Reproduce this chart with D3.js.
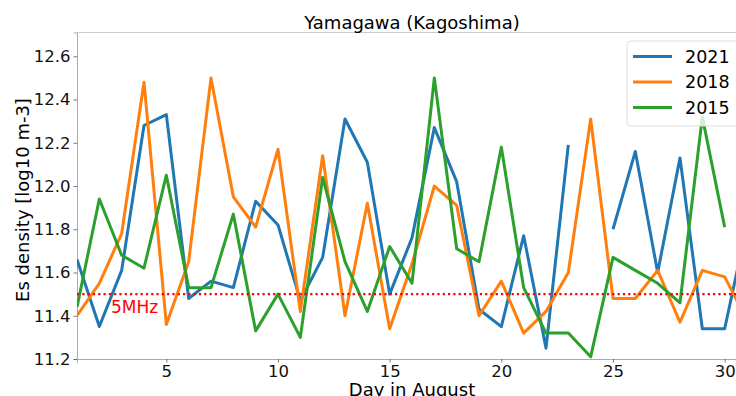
<!DOCTYPE html>
<html>
<head>
<meta charset="utf-8">
<title>Yamagawa (Kagoshima)</title>
<script src="https://d3js.org/d3.v7.min.js"></script>
<style>
  body { margin: 0; background: white; }
  svg { font-family: "DejaVu Sans", sans-serif; }
</style>
</head>
<body>
<div id="chart"></div>
<script>
// days of August
const days = d3.range(1, 32);

// Es density [log10 m-3], null = no data
const es2021 = [11.66, 11.35, 11.61, 12.28, 12.33, 11.48, 11.56, 11.53, 11.93, 11.82,
                11.47, 11.67, 12.31, 12.11, 11.50, 11.76, 12.27, 12.02, 11.43, 11.35,
                11.77, 11.25, 12.19, null, 11.80, 12.16, 11.60, 12.13, 11.34, 11.34, 11.82];
const es2018 = [11.40, 11.55, 11.78, 12.48, 11.36, 11.65, 12.50, 11.95, 11.81, 12.17,
                11.42, 12.14, 11.40, 11.92, 11.34, 11.64, 12.00, 11.91, 11.40, 11.56,
                11.32, 11.42, 11.60, 12.31, 11.48, 11.48, 11.61, 11.37, 11.61, 11.58, 11.38];
const es2015 = [11.44, 11.94, 11.68, 11.62, 12.05, 11.53, 11.53, 11.87, 11.33, 11.50,
                11.30, 12.04, 11.65, 11.42, 11.72, 11.55, 12.50, 11.71, 11.65, 12.18,
                11.53, 11.32, 11.32, 11.21, 11.67, 11.61, 11.55, 11.46, 12.32, 11.81, null];

const seriesNames = ["2021", "2018", "2015"];
const seriesColors = ["#1f77b4", "#ff7f0e", "#2ca02c"];
const xTicks = [5, 10, 15, 20, 25, 30];
const yTicks = [11.2, 11.4, 11.6, 11.8, 12.0, 12.2, 12.4, 12.6];
const threshold = 11.5; // 5MHz

const width = 736, height = 396;
const margin = {left: 77, top: 32.5, right: -11, bottom: 37};

const svg = d3.select("#chart").append("svg")
    .attr("width", width)
    .attr("height", height);

const x = d3.scaleLinear().domain([1, 31]).range([margin.left, width - margin.right]);
const y = d3.scaleLinear().domain([11.2, 12.71]).range([height - margin.bottom, margin.top]);

svg.append("defs").append("clipPath").attr("id", "plotclip")
  .append("rect")
    .attr("x", x(1)).attr("y", y(12.71))
    .attr("width", x(31) - x(1)).attr("height", y(11.2) - y(12.71));

// axes
const xAxis = svg.append("g")
    .attr("transform", `translate(0,${y(11.2)})`)
    .call(d3.axisBottom(x).tickValues(xTicks).tickSize(3.5).tickPadding(3).tickFormat(d3.format("d")));
const yAxis = svg.append("g")
    .attr("transform", `translate(${x(1)},0)`)
    .call(d3.axisLeft(y).tickValues(yTicks).tickSize(3.5).tickPadding(3).tickFormat(d3.format(".1f")));

[xAxis, yAxis].forEach(g => {
  g.select(".domain").attr("stroke", "#aaa");
  g.selectAll(".tick line").attr("stroke", "#555").attr("stroke-width", 0.8);
  g.selectAll(".tick text").attr("font-size", 16.5).attr("fill", "#111")
    .attr("font-family", "DejaVu Sans, sans-serif");
});

// top spine
svg.append("line")
    .attr("x1", x(1)).attr("x2", x(31))
    .attr("y1", y(12.71)).attr("y2", y(12.71))
    .attr("stroke", "#ccc");

const plot = svg.append("g").attr("clip-path", "url(#plotclip)");

const line = d3.line()
    .defined(d => d[1] !== null)
    .x(d => x(d[0]))
    .y(d => y(d[1]));

[es2021, es2018, es2015].forEach((vals, i) => {
  plot.append("path")
      .datum(days.map((d, j) => [d, vals[j]]))
      .attr("fill", "none")
      .attr("stroke", seriesColors[i])
      .attr("stroke-width", 3)
      .attr("stroke-linejoin", "round")
      .attr("d", line);
});

// 5MHz line
plot.append("line")
    .attr("x1", x(1)).attr("x2", x(31))
    .attr("y1", y(threshold)).attr("y2", y(threshold))
    .attr("stroke", "red")
    .attr("stroke-width", 2.2)
    .attr("stroke-dasharray", "2.2,3.1");

svg.append("text")
    .attr("x", 111).attr("y", 313)
    .attr("fill", "red")
    .attr("font-size", 17)
    .text("5MHz");

// title and labels
svg.append("text")
    .attr("x", (x(1) + x(31)) / 2).attr("y", 29)
    .attr("text-anchor", "middle")
    .attr("font-size", 18)
    .text("Yamagawa (Kagoshima)");

svg.append("text")
    .attr("x", (x(1) + x(31)) / 2).attr("y", 396)
    .attr("text-anchor", "middle")
    .attr("font-size", 18)
    .text("Day in August");

svg.append("text")
    .attr("transform", `translate(29,200) rotate(-90)`)
    .attr("text-anchor", "middle")
    .attr("font-size", 18)
    .text("Es density [log10 m-3]");

// legend
const legend = svg.append("g").attr("transform", "translate(627,41)");
legend.append("rect")
    .attr("width", 130).attr("height", 85)
    .attr("rx", 4)
    .attr("fill", "white").attr("fill-opacity", 0.8)
    .attr("stroke", "#ddd");
seriesNames.forEach((name, i) => {
  const row = legend.append("g").attr("transform", `translate(0,${15.5 + i * 25.5})`);
  row.append("line")
      .attr("x1", 6).attr("x2", 45)
      .attr("stroke", seriesColors[i]).attr("stroke-width", 3);
  row.append("text")
      .attr("x", 58).attr("y", 6.3)
      .attr("font-size", 17.5)
      .text(name);
});
</script>
</body>
</html>
